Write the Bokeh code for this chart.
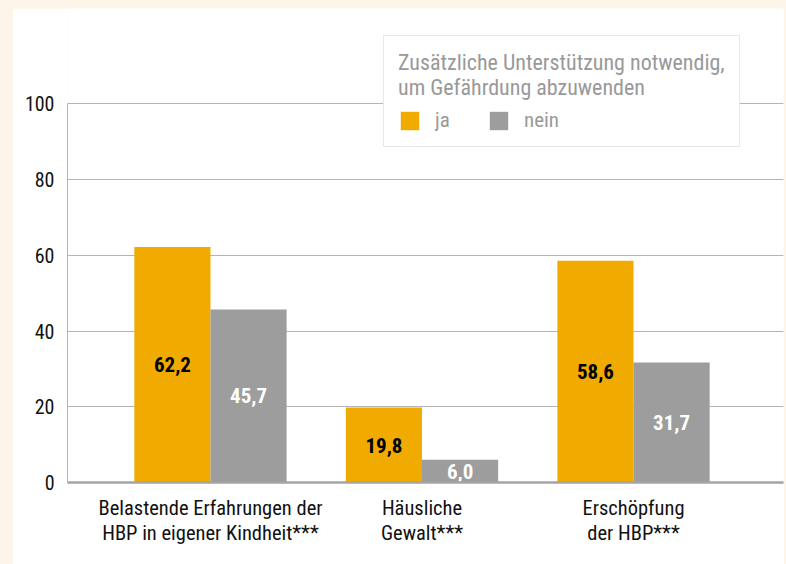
from bokeh.plotting import figure
from bokeh.models import (ColumnDataSource, FixedTicker, Legend, LegendItem, Range1d, Spacer)
from bokeh.layouts import row, column
from bokeh.core.properties import value
from bokeh.embed import file_html
from bokeh.resources import INLINE

# ---- data ----
categories = ["Belastende Erfahrungen der\nHBP in eigener Kindheit***",
              "Häusliche\nGewalt***",
              "Erschöpfung\nder HBP***"]
ja_values = [62.2, 19.8, 58.6]
nein_values = [45.7, 6.0, 31.7]
y_ticks = [0, 20, 40, 60, 80, 100]
series_names = ["ja", "nein"]
legend_title = "Zusätzliche Unterstützung notwendig,\num Gefährdung abzuwenden"

# ---- style ----
FONT = "Roboto Condensed"
ORANGE = "#f0aa00"
GRAY = "#9c9d9c"
CREAM = "#fdf5e9"
BAR_W = 0.36
OFF = 0.18

xs = list(range(len(categories)))
fmt = lambda v: f"{v:.1f}".replace(".", ",")

src_ja = ColumnDataSource(dict(x=[i - OFF for i in xs], top=ja_values,
                               ymid=[v / 2 for v in ja_values],
                               lab=[fmt(v) for v in ja_values]))
src_nein = ColumnDataSource(dict(x=[i + OFF for i in xs], top=nein_values,
                                 ymid=[v / 2 for v in nein_values],
                                 lab=[fmt(v) for v in nein_values]))

p = figure(width=772, height=556, output_backend="svg", toolbar_location=None,
           x_range=Range1d(-0.676, 2.709), y_range=Range1d(0, 125.2),
           min_border_left=55, min_border_right=1, min_border_top=0,
           min_border_bottom=82)
p.outline_line_color = None
p.background_fill_color = "white"
p.border_fill_color = "white"

r_ja = p.vbar(x="x", top="top", width=BAR_W, bottom=0, source=src_ja,
              fill_color=ORANGE, line_color=None)
r_nein = p.vbar(x="x", top="top", width=BAR_W, bottom=0, source=src_nein,
                fill_color=GRAY, line_color=None)

p.text(x="x", y="ymid", text="lab", source=src_ja, text_color="black",
       text_font=value(FONT), text_font_style="bold", text_font_size="21px",
       text_align="center", text_baseline="middle")
p.text(x="x", y="ymid", text="lab", source=src_nein, text_color="white",
       text_font=value(FONT), text_font_style="bold", text_font_size="21px",
       text_align="center", text_baseline="middle")

# axes
p.yaxis.ticker = FixedTicker(ticks=y_ticks)
p.yaxis.bounds = (0, 100)
p.yaxis.axis_line_color = "#b4b4b4"
p.yaxis.major_tick_line_color = None
p.yaxis.minor_tick_line_color = None
p.yaxis.major_label_standoff = 7
p.yaxis.major_label_text_font = FONT
p.yaxis.major_label_text_font_size = "20px"
p.yaxis.major_label_text_color = "#111111"

p.xaxis.ticker = FixedTicker(ticks=xs)
p.xaxis.major_label_overrides = {i: c for i, c in zip(xs, categories)}
p.xaxis.axis_line_color = "#a4a4a4"
p.xaxis.axis_line_width = 2.5
p.xaxis.major_tick_line_color = None
p.xaxis.minor_tick_line_color = None
p.xaxis.major_label_standoff = 7
p.xaxis.major_label_text_font = FONT
p.xaxis.major_label_text_font_size = "20.5px"
p.xaxis.major_label_text_line_height = 1.05
p.xaxis.major_label_text_color = "#111111"

p.xgrid.grid_line_color = None
p.ygrid.ticker = FixedTicker(ticks=y_ticks[1:])
p.ygrid.grid_line_color = "#b4b4b4"
p.ygrid.grid_line_width = 1

legend = Legend(items=[LegendItem(label=series_names[0], renderers=[r_ja]),
                       LegendItem(label=series_names[1], renderers=[r_nein])],
                title=legend_title, orientation="horizontal",
                location=(316, 335))
legend.title_text_font = FONT
legend.title_text_font_size = "22px"
legend.title_text_font_style = "normal"
legend.title_text_color = "#999999"
legend.title_standoff = 8
legend.label_text_font = FONT
legend.label_text_font_size = "21px"
legend.label_text_color = "#999999"
legend.label_standoff = 14
legend.glyph_width = 23
legend.glyph_height = 23
legend.spacing = 32
legend.padding = 14
legend.margin = 0
legend.border_line_color = "#d2d2d2"
legend.border_line_width = 1.5
legend.background_fill_color = "white"
legend.background_fill_alpha = 1
p.add_layout(legend)

layout = column(Spacer(width=784, height=8, styles={"background-color": CREAM}),
                row(Spacer(width=12, height=556, styles={"background-color": CREAM}), p))

html = file_html(layout, INLINE)
html = html.replace("</head>", f"<style>html, body {{ background-color: {CREAM}; }}</style></head>", 1)
open("out.html", "w").write(html)
